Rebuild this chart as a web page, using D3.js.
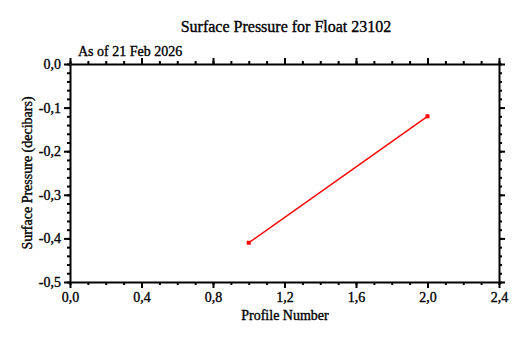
<!DOCTYPE html>
<html><head><meta charset="utf-8">
<script src="https://cdn.jsdelivr.net/npm/d3@7"></script>
<style>body{margin:0;background:#fff}svg{display:block}text{font-family:"Liberation Serif","Times New Roman",serif;fill:#000;stroke:#000;stroke-width:0.35px}</style>
</head><body>
<script>
const profiles = [1, 2];
const pressures = [-0.41, -0.12];
const xTicks = [0.0, 0.4, 0.8, 1.2, 1.6, 2.0, 2.4];
const yTicks = [0.0, -0.1, -0.2, -0.3, -0.4, -0.5];
const titleText = "Surface Pressure for Float 23102";
const subText = "As of 21 Feb 2026";
const xLabel = "Profile Number";
const yLabel = "Surface Pressure (decibars)";

const W = 527, H = 338;
const m = {l: 70, r: 28, t: 64, b: 56};
const svg = d3.select("body").append("svg").attr("width", W).attr("height", H);
const x = d3.scaleLinear().domain([0, 2.4]).range([m.l, W - m.r]);
const y = d3.scaleLinear().domain([-0.5, 0]).range([H - m.b, m.t]);

const fmt = v => v.toFixed(1).replace(".", ",");
function styleAxis(g){
  g.select(".domain").attr("stroke", "#000").attr("stroke-width", 2);
  g.selectAll(".tick line").attr("stroke", "#000").attr("stroke-width", 2);
  g.selectAll("text").style("font-family", '"Liberation Serif",serif').style("font-size", "14px").attr("fill", "#000");
}
const xMinor = d3.range(0, 2.401, 0.1);
const yMinor = d3.range(-0.5, 0.001, 0.02);

[[d3.axisBottom(x), H - m.b], [d3.axisTop(x), m.t]].forEach(([ax, ty]) => {
  svg.append("g").attr("transform", `translate(0,${ty})`)
    .call(ax.tickValues(xMinor).tickSize(3).tickFormat(""))
    .call(g => { g.select(".domain").remove(); g.selectAll(".tick line").attr("stroke", "#000").attr("stroke-width", 2); });
});
[[d3.axisLeft(y), m.l], [d3.axisRight(y), W - m.r]].forEach(([ax, tx]) => {
  svg.append("g").attr("transform", `translate(${tx},0)`)
    .call(ax.tickValues(yMinor).tickSize(3).tickFormat(""))
    .call(g => { g.select(".domain").remove(); g.selectAll(".tick line").attr("stroke", "#000").attr("stroke-width", 2); });
});

svg.append("g").attr("transform", `translate(0,${H - m.b})`)
  .call(d3.axisBottom(x).tickValues(xTicks).tickSize(6).tickSizeOuter(0).tickPadding(4).tickFormat(fmt)).call(styleAxis);
svg.append("g").attr("transform", `translate(0,${m.t})`)
  .call(d3.axisTop(x).tickValues(xTicks).tickSize(6).tickSizeOuter(0).tickFormat("")).call(styleAxis);
svg.append("g").attr("transform", `translate(${m.l},0)`)
  .call(d3.axisLeft(y).tickValues(yTicks).tickSize(6).tickSizeOuter(0).tickPadding(3).tickFormat(fmt)).call(styleAxis);
svg.append("g").attr("transform", `translate(${W - m.r},0)`)
  .call(d3.axisRight(y).tickValues(yTicks).tickSize(6).tickSizeOuter(0).tickFormat("")).call(styleAxis);

const pts = profiles.map((p, i) => [p, pressures[i]]);
svg.append("path").datum(pts)
  .attr("d", d3.line().x(d => x(d[0])).y(d => y(d[1])))
  .attr("fill", "none").attr("stroke", "#ff0000").attr("stroke-width", 1.5);
svg.selectAll("rect.pt").data(pts).enter().append("rect").attr("class", "pt")
  .attr("x", d => x(d[0]) - 2).attr("y", d => y(d[1]) - 2)
  .attr("width", 4).attr("height", 4).attr("fill", "#ff0000");

svg.append("text").attr("x", 286).attr("y", 32).attr("text-anchor", "middle")
  .style("font-size", "16px").text(titleText);
svg.append("text").attr("x", 78).attr("y", 56)
  .style("font-size", "14px").text(subText);
svg.append("text").attr("x", 285).attr("y", 320).attr("text-anchor", "middle")
  .style("font-size", "14px").text(xLabel);
svg.append("text").attr("transform", `translate(32,${(m.t + H - m.b) / 2}) rotate(-90)`).attr("text-anchor", "middle")
  .style("font-size", "14px").text(yLabel);
</script>
</body></html>
